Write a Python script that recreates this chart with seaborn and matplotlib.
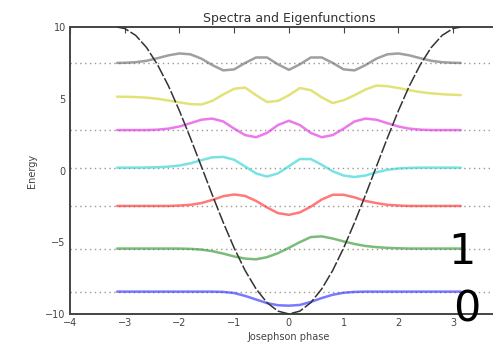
"""
    Spectra and eigenfunctions of a Josephson junction (cos potential)
"""

import numpy as np
import seaborn as sns
import matplotlib
matplotlib.use("Agg")
import matplotlib.pyplot as plt

# phase grid the curves were read on
phase = [-3.14, -3.0, -2.8, -2.6, -2.4, -2.2, -2.0, -1.8, -1.6, -1.4, -1.2,
         -1.0, -0.8, -0.6, -0.4, -0.2, 0.0, 0.2, 0.4, 0.6, 0.8, 1.0, 1.2,
         1.4, 1.6, 1.8, 2.0, 2.2, 2.4, 2.6, 2.8, 3.0, 3.14]

# potential (dashed black)
potential = [10.0, 9.9, 9.42, 8.57, 7.37, 5.89, 4.16, 2.27, 0.29, -1.70, -3.62,
             -5.40, -6.97, -8.25, -9.21, -9.80, -10.0, -9.80, -9.21, -8.25, -6.97,
             -5.40, -3.62, -1.70, 0.29, 2.27, 4.16, 5.89, 7.37, 8.57, 9.42, 9.9, 10.0]

# energy levels of each state, and the dotted level lines
levels = [-8.44, -5.44, -2.47, 0.2, 2.82, 5.2, 7.5]
level_lines = [-8.44, -5.44, -2.47, 0.17, 2.82, 7.5]

# eigenfunctions, as offsets from their level
psi0 = [0, 0, 0, 0, 0, 0, 0, 0, 0, 0, -0.02, -0.1, -0.3, -0.55, -0.8, -0.95,
        -0.98, -0.93, -0.72, -0.45, -0.22, -0.08, -0.02, 0, 0, 0, 0, 0, 0, 0, 0, 0, 0]
psi1 = [0, 0, 0, 0, 0, 0, 0, -0.02, -0.07, -0.18, -0.35, -0.55, -0.7, -0.75, -0.6,
        -0.32, 0.05, 0.45, 0.8, 0.85, 0.7, 0.5, 0.32, 0.18, 0.1, 0.05, 0.02, 0, 0, 0, 0, 0, 0]
psi2 = [0, 0, 0, 0, 0, 0, 0.03, 0.08, 0.2, 0.42, 0.68, 0.8, 0.7, 0.35, -0.1, -0.5,
        -0.62, -0.45, -0.05, 0.45, 0.78, 0.78, 0.6, 0.35, 0.2, 0.08, 0.03, 0, 0, 0, 0, 0, 0]
psi3 = [0, 0, 0, 0.01, 0.03, 0.07, 0.15, 0.3, 0.52, 0.72, 0.75, 0.55, 0.08, -0.4,
        -0.62, -0.4, 0.1, 0.6, 0.6, 0.2, -0.25, -0.55, -0.65, -0.55, -0.32, -0.15,
        -0.06, -0.02, 0, 0, 0, 0, 0]
psi4 = [0, 0, 0, 0, 0.03, 0.1, 0.25, 0.48, 0.72, 0.8, 0.6, 0.1, -0.35, -0.5, -0.2,
        0.35, 0.65, 0.35, -0.2, -0.5, -0.35, 0.1, 0.6, 0.8, 0.72, 0.48, 0.25, 0.1,
        0.03, 0, 0, 0, 0]
psi5 = [-0.05, -0.06, -0.08, -0.12, -0.2, -0.32, -0.45, -0.57, -0.6, -0.35, 0.1,
        0.5, 0.58, 0.05, -0.42, -0.35, 0.05, 0.55, 0.4, -0.1, -0.5, -0.3, 0.05,
        0.45, 0.72, 0.68, 0.55, 0.4, 0.27, 0.18, 0.12, 0.08, 0.06]
psi6 = [0, 0.01, 0.05, 0.15, 0.33, 0.53, 0.66, 0.6, 0.3, -0.15, -0.52, -0.45, 0.0,
        0.38, 0.38, -0.1, -0.48, -0.1, 0.38, 0.38, 0.0, -0.45, -0.52, -0.15, 0.3,
        0.6, 0.66, 0.53, 0.33, 0.15, 0.05, 0.01, 0]

waves = [psi0, psi1, psi2, psi3, psi4, psi5, psi6]
colors = ["#2020ff", "#209020", "#ff2020", "#20d0d0", "#e020e0", "#d0d020", "#606060"]

xticks = [-4, -3, -2, -1, 0, 1, 2, 3]
yticks = [-10, -5, 0, 5, 10]


def plotSpectrum():
    sns.set_style("white")
    plt.rcParams['font.family'] = ['DejaVu Sans']

    fig = plt.figure(figsize=(4.93, 3.56), dpi=100)
    # axes run past the right edge, like the cropped original
    ax = fig.add_axes([0.142, 0.118, 0.888, 0.806])

    for lv in level_lines:
        ax.axhline(lv, color="#8a7a7a", ls=(0, (1, 2.5)), lw=1.0, alpha=0.8, zorder=1)

    for lv, psi, c in zip(levels, waves, colors):
        line = sns.lineplot(x=phase, y=np.array(psi) + lv, ax=ax, color=c, lw=1.8,
                            alpha=0.6, zorder=2)
    for ln in ax.get_lines():
        ln.set_solid_joinstyle("round")

    sns.lineplot(x=phase, y=potential, ax=ax, color="#333333", lw=1.1,
                 ls=(0, (8, 1.5)), zorder=3)

    ax.set_xlim(-4, 4)
    ax.set_ylim(-10, 10)
    ax.set_xticks(xticks)
    ax.set_yticks(yticks)
    ax.tick_params(direction="in", top=True, right=True, length=4, width=0.8,
                   labelsize=7, colors="#444444", pad=3)
    for s in ax.spines.values():
        s.set_color("#444444")
        s.set_linewidth(1.4)

    ax.set_title("Spectra and Eigenfunctions", fontsize=9, color="#333333", pad=4)
    ax.set_xlabel("Josephson phase", fontsize=7, color="#444444", labelpad=3)
    ax.set_ylabel("Energy", fontsize=7, color="#444444", labelpad=6)

    fig.text(462 / 493, 1 - 252 / 356, "1", fontsize=31, color="black",
             ha="center", va="center")
    fig.text(467 / 493, 1 - 309 / 356, "0", fontsize=31, color="black",
             ha="center", va="center")

    plt.savefig("out.png", dpi=100)


if __name__ == "__main__":
    plotSpectrum()
